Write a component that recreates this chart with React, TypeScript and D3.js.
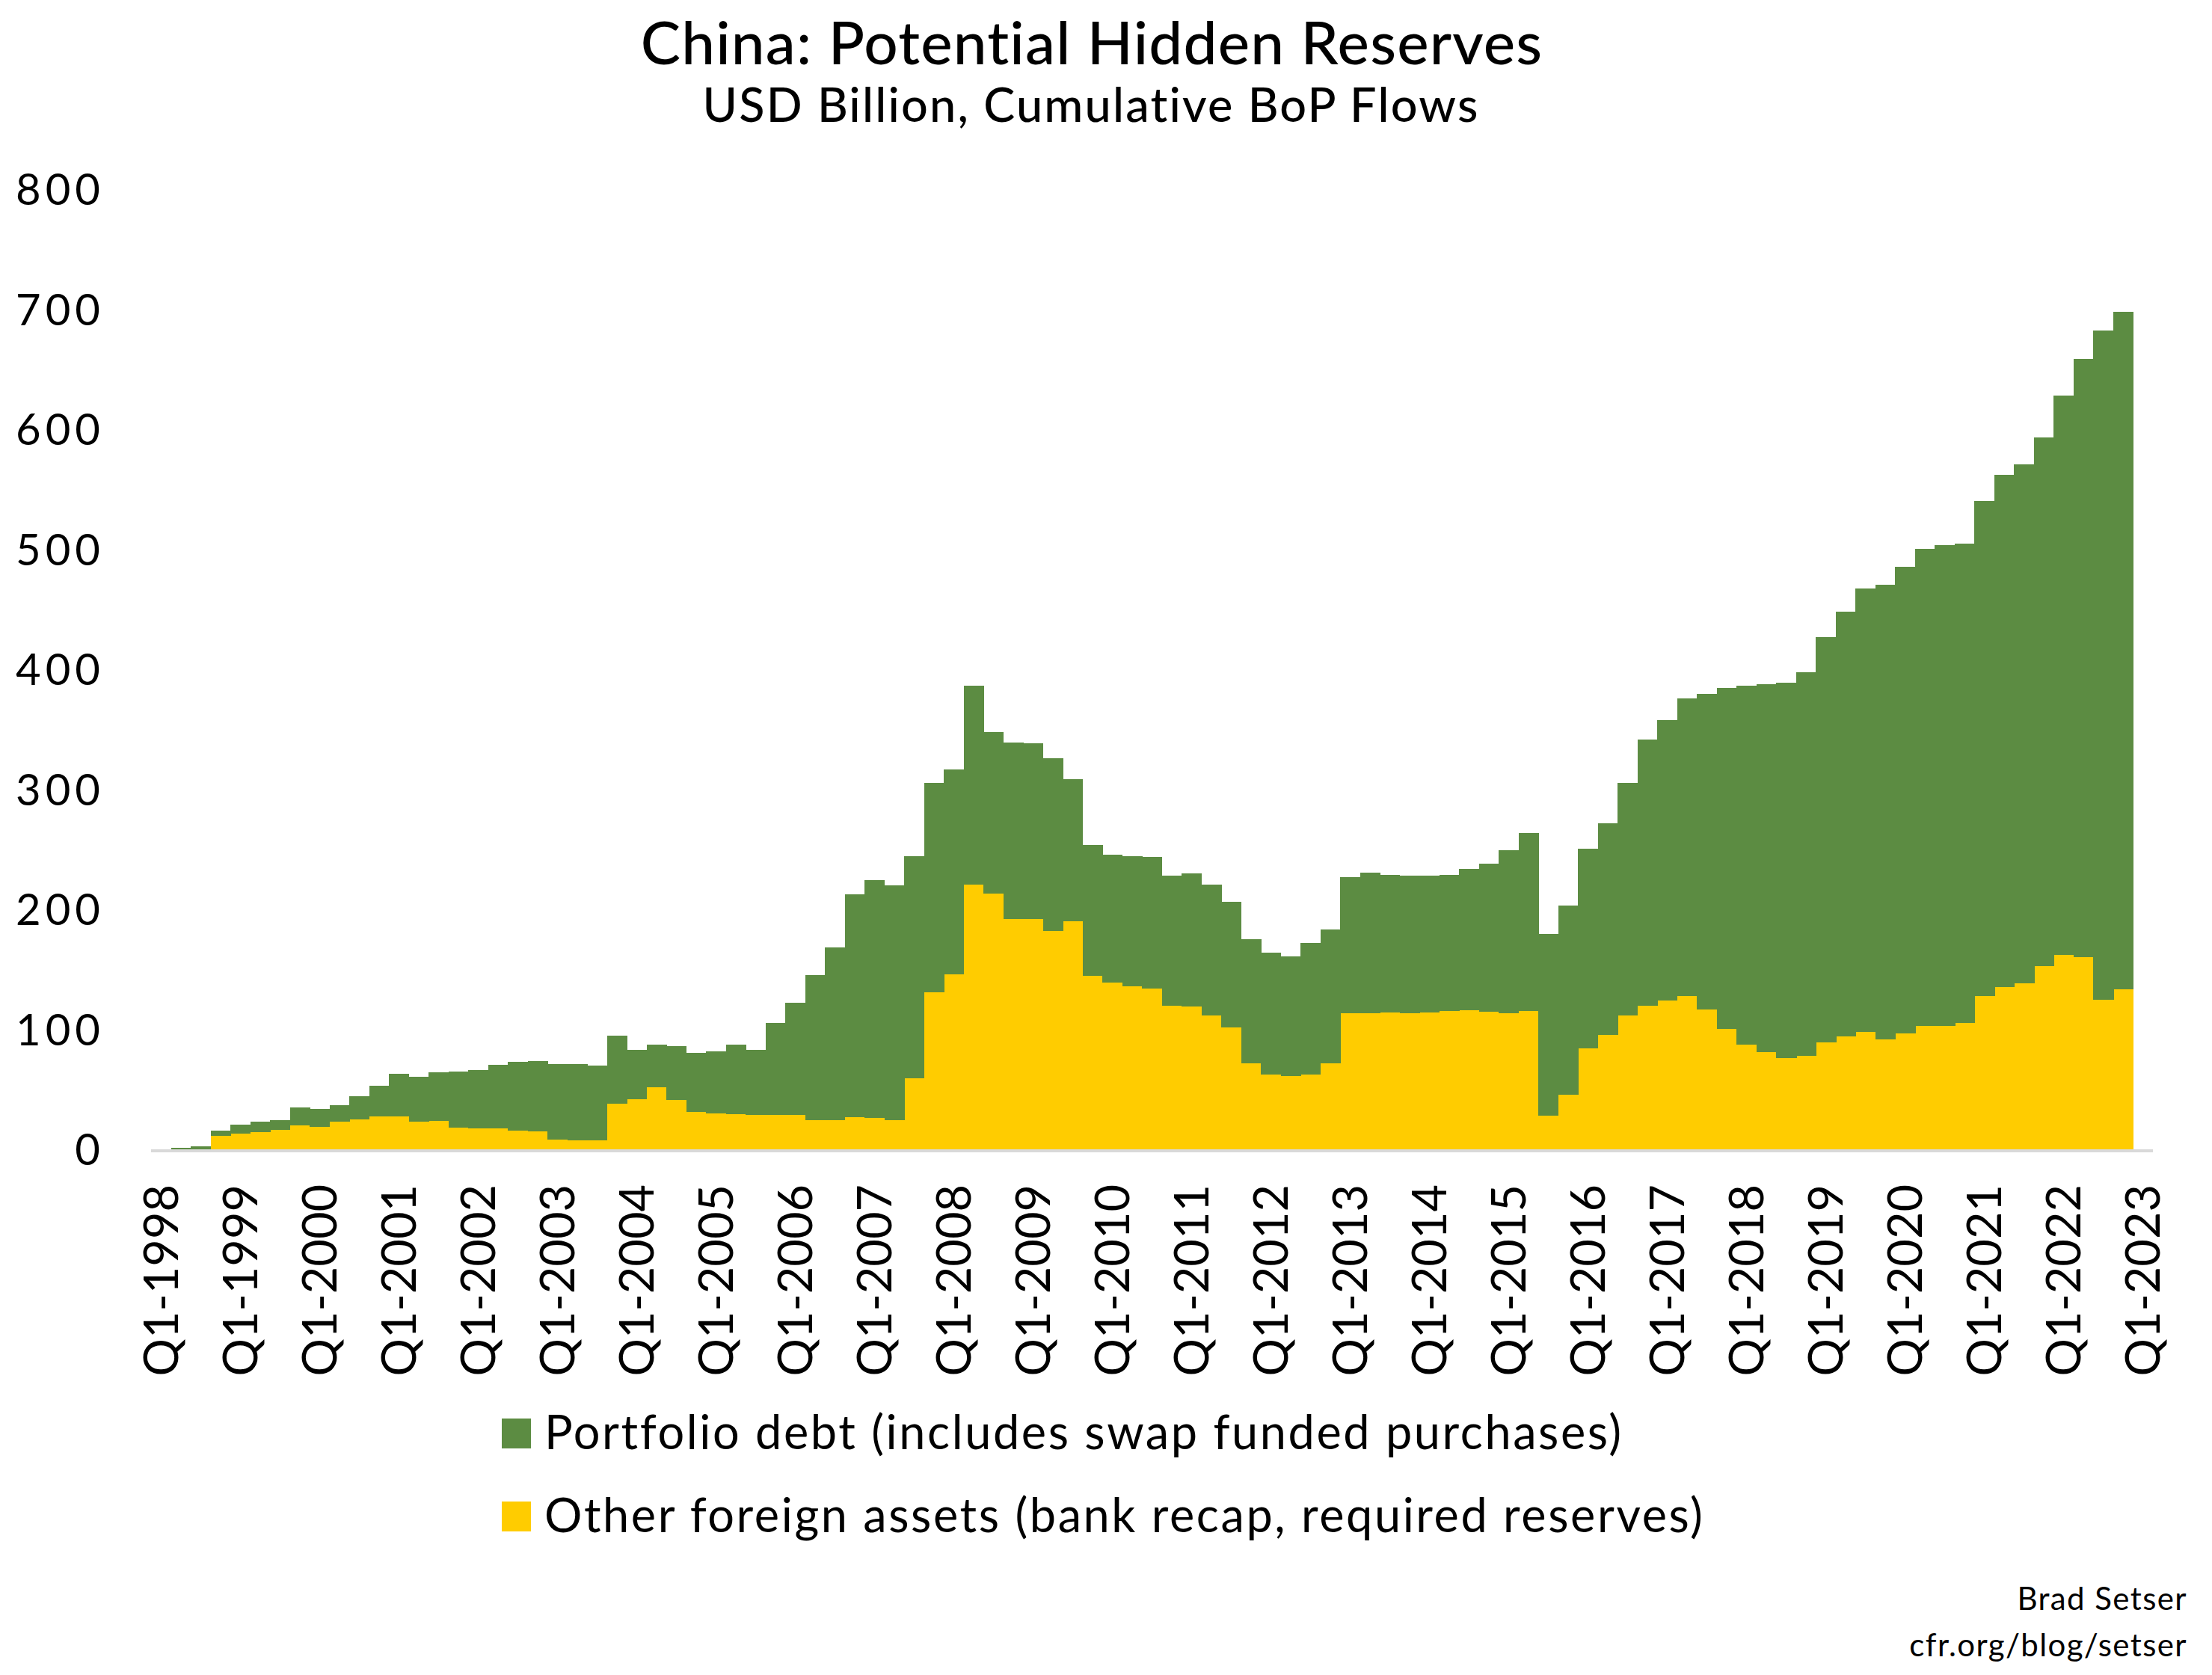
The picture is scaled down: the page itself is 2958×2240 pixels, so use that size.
import React, { useRef, useEffect } from 'react';
import * as d3 from 'd3';

const years = [
  1998, 1999, 2000, 2001, 2002, 2003, 2004, 2005, 2006, 2007, 2008, 2009, 2010,
  2011, 2012, 2013, 2014, 2015, 2016, 2017, 2018, 2019, 2020, 2021, 2022, 2023,
];

// quarters Q1-1998 .. Q1-2023 (the last one has no data)
const quarters = years.flatMap(y => [1, 2, 3, 4].map(q => `Q${q}-${y}`)).slice(0, 101);

// Portfolio debt (includes swap funded purchases), USD bn
const portfolioDebt = [
  0, 1, 2.5, 4.2, 7.5, 8.3, 8.2, 15.4, 14.9, 13.8, 19, 25.7,
  35.3, 37.1, 40.5, 46.5, 48.9, 53, 57.4, 58.5, 62.9, 63.7, 62.4, 56.4,
  41, 35.5, 44.6, 49.2, 51.7, 57.9, 53.9, 76.3, 93, 120.4, 144, 185.5,
  198.2, 195.3, 185.1, 175, 170.4, 165.7, 134.6, 146.9, 146.2, 144, 117.9, 109.2,
  106, 108.9, 109.2, 108.1, 110.7, 108.9, 104.8, 103.4, 101.6, 99.5, 109.2, 111.4,
  113.6, 116.8, 114.7, 114.2, 113.5, 113.5, 117.5, 123.7, 135.9, 148.3, 151.2, 157.7,
  166.4, 176.1, 193.8, 221.6, 233.7, 248.2, 263.1, 284.1, 299.1, 306.6, 312.8, 319.8,
  337.5, 354, 369.4, 379.3, 388.6, 397.1, 400.4, 399.5, 412.6, 426.7, 432.3, 440.3,
  466.1, 498.8, 557.4, 565, 0,
];

// Other foreign assets (bank recap, required reserves), USD bn
const otherAssets = [
  0, 0, 0, 11.3, 13, 14.5, 16.4, 19.8, 18.5, 23.2, 25, 27.3,
  27.7, 23.2, 23.5, 18.3, 17.2, 17.2, 15.4, 14.9, 8.1, 7.3, 7.3, 38.1,
  41.8, 51.7, 41.2, 31.1, 30, 29.3, 28.9, 28.9, 28.9, 24.6, 24.2, 26.8,
  26.4, 24.6, 59, 130.6, 146.1, 220.6, 213, 192, 192, 181.9, 190.2, 144.3,
  139.2, 135.6, 134.2, 119.7, 119, 111.4, 101.3, 71.6, 62.2, 61.1, 62.6, 71.6,
  113.2, 113.6, 113.9, 113.6, 114.3, 115.4, 116.1, 114.6, 113.6, 115.4, 28.2, 45.2,
  83.9, 95.5, 111.8, 119.7, 123.8, 127.6, 116.4, 100.3, 87.2, 81.1, 75.9, 77.8,
  89.1, 94.2, 98, 91.4, 96.6, 103.1, 103.1, 105, 127.5, 135, 138.3, 152.8,
  161.7, 159.9, 124.7, 133.1, 0,
];

const yTicks = [0, 100, 200, 300, 400, 500, 600, 700, 800];

const seriesNames = [
  'Portfolio debt (includes swap funded purchases)',
  'Other foreign assets (bank recap, required reserves)',
];

const GREEN = '#5c8c42';
const YELLOW = '#ffcc00';
const FONT = 'Lato, "Noto Sans", sans-serif';

const W = 2958;
const H = 2240;

const Chart: React.FC = () => {
  const svgRef = useRef<SVGSVGElement>(null);

  useEffect(() => {
    if (!svgRef.current) return;
    const svg = d3.select(svgRef.current);
    svg.selectAll('*').remove();

    const left = 202;
    const right = 2879;
    const top = 253;
    const bottom = 1537;

    const table = quarters.map((q, i) => ({
      quarter: q,
      other: otherAssets[i],
      portfolio: portfolioDebt[i],
    }));

    const x = d3.scaleBand<string>().domain(quarters).range([left, right]).padding(0);
    const y = d3.scaleLinear().domain([0, 800]).range([bottom, top]);

    const stacked = d3.stack<any>().keys(['other', 'portfolio'])(table);
    const colors: Record<string, string> = { other: YELLOW, portfolio: GREEN };

    svg.append('rect').attr('width', W).attr('height', H).attr('fill', '#fff');

    // titles
    svg.append('text')
      .attr('x', 1460).attr('y', 86)
      .attr('text-anchor', 'middle')
      .attr('font-family', FONT).attr('font-size', 80).attr('font-weight', 500)
      .attr('letter-spacing', 1.2)
      .text('China: Potential Hidden Reserves');
    svg.append('text')
      .attr('x', 1459).attr('y', 163)
      .attr('text-anchor', 'middle')
      .attr('font-family', FONT).attr('font-size', 63).attr('font-weight', 500)
      .attr('letter-spacing', 2.2)
      .text('USD Billion, Cumulative BoP Flows');

    // bars
    stacked.forEach(layer => {
      svg.append('g')
        .attr('fill', colors[layer.key])
        .attr('shape-rendering', 'crispEdges')
        .selectAll('rect')
        .data(layer)
        .join('rect')
        .attr('x', d => x(d.data.quarter)!)
        .attr('width', x.bandwidth() + 0.6)
        .attr('y', d => y(d[1]))
        .attr('height', d => Math.max(0, y(d[0]) - y(d[1])));
    });

    // baseline
    svg.append('line')
      .attr('x1', left).attr('x2', right)
      .attr('y1', bottom + 2).attr('y2', bottom + 2)
      .attr('stroke', '#d9d9d9').attr('stroke-width', 4);

    // y axis labels
    const yAxis = d3.axisLeft(y).tickValues(yTicks).tickSize(0).tickPadding(0);
    const gy = svg.append('g').attr('transform', 'translate(134,0)').call(yAxis);
    gy.select('.domain').remove();
    gy.selectAll('text')
      .attr('font-family', FONT).attr('font-size', 58).attr('fill', '#000')
      .attr('letter-spacing', 6)
      .attr('dx', 6)
      .attr('dy', '0.36em');

    // x axis labels, every 4th quarter
    const xAxis = d3.axisBottom(x)
      .tickValues(quarters.filter((_, i) => i % 4 === 0))
      .tickSize(0).tickPadding(0);
    const gx = svg.append('g').attr('transform', `translate(0,${bottom + 47})`).call(xAxis);
    gx.select('.domain').remove();
    gx.selectAll('text')
      .attr('font-family', FONT).attr('font-size', 63).attr('fill', '#000')
      .attr('text-anchor', 'end')
      .attr('transform', 'rotate(-90)')
      .attr('x', 0).attr('y', 0).attr('dy', '0.36em');

    // legend
    const legend = svg.append('g')
      .attr('font-family', FONT).attr('font-size', 63).attr('letter-spacing', 2.6);
    [GREEN, YELLOW].forEach((c, i) => {
      const ly = 1897 + i * 111;
      legend.append('rect').attr('x', 671).attr('y', ly).attr('width', 39).attr('height', 40).attr('fill', c);
      legend.append('text').attr('x', 728).attr('y', ly + 41).text(seriesNames[i]);
    });

    // source
    svg.append('text')
      .attr('x', 2925).attr('y', 2153).attr('text-anchor', 'end')
      .attr('font-family', FONT).attr('font-size', 42).attr('letter-spacing', 1.4)
      .text('Brad Setser');
    svg.append('text')
      .attr('x', 2925).attr('y', 2215).attr('text-anchor', 'end')
      .attr('font-family', FONT).attr('font-size', 42).attr('letter-spacing', 1.4)
      .text('cfr.org/blog/setser');
  }, []);

  return (
    <svg
      ref={svgRef}
      width={W}
      height={H}
      style={{ position: 'absolute', left: 0, top: 0, display: 'block' }}
    />
  );
};

export default function App() {
  return <Chart />;
}
